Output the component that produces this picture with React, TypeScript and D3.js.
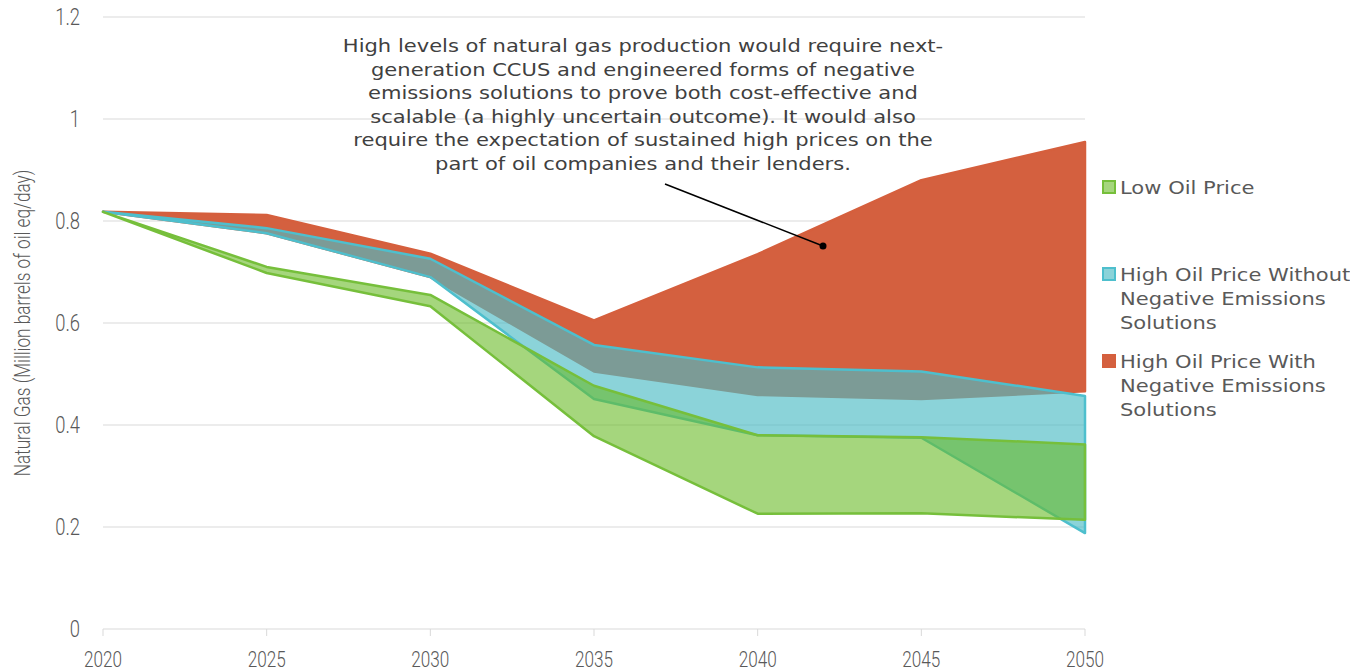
import React from 'react';
import { scaleLinear, scalePoint, area } from 'd3';

// years on the x axis
const years = [2020, 2025, 2030, 2035, 2040, 2045, 2050];
const yTicks = [0, 0.2, 0.4, 0.6, 0.8, 1, 1.2];

// each scenario is a range band (low / high edge)
const lowPriceLow = [0.818, 0.698, 0.633, 0.378, 0.226, 0.227, 0.214];
const lowPriceHigh = [0.818, 0.71, 0.655, 0.477, 0.38, 0.376, 0.362];
const noNegLow = [0.818, 0.776, 0.69, 0.451, 0.38, 0.375, 0.188];
const noNegHigh = [0.818, 0.786, 0.726, 0.557, 0.513, 0.505, 0.457];
const withNegLow = [0.818, 0.776, 0.69, 0.505, 0.459, 0.451, 0.466];
const withNegHigh = [0.818, 0.812, 0.736, 0.605, 0.735, 0.88, 0.955];

const legendLabels = [
  ['Low Oil Price'],
  ['High Oil Price Without', 'Negative Emissions', 'Solutions'],
  ['High Oil Price With', 'Negative Emissions', 'Solutions'],
];

const noteLines = [
  'High levels of natural gas production would require next-',
  'generation CCUS and engineered forms of negative',
  'emissions solutions to prove both cost-effective and',
  'scalable (a highly uncertain outcome). It would also',
  'require the expectation of sustained high prices on the',
  'part of oil companies and their lenders.',
];

const W = 1368;
const H = 672;
const margin = { top: 17, right: 283, bottom: 43, left: 103 };

const condensed = { fontFamily: 'Roboto', fontWeight: 300 } as const;
const wide = { fontFamily: '"DejaVu Sans"' } as const;

const App = () => {
  const x = scalePoint<number>().domain(years).range([margin.left, W - margin.right]);
  const y = scaleLinear().domain([0, 1.2]).range([H - margin.bottom, margin.top]);

  const band = (lo: number[], hi: number[]) =>
    area<number>()
      .x((d) => x(d) as number)
      .y0((_, i) => y(lo[i]))
      .y1((_, i) => y(hi[i]))(years) + 'Z';

  const series = [
    { lo: withNegLow, hi: withNegHigh, fill: '#d4603f', op: 1, stroke: '#d55f3d' },
    { lo: noNegLow, hi: noNegHigh, fill: '#4dbcc5', op: 0.65, stroke: '#4ebfcd' },
    { lo: lowPriceLow, hi: lowPriceHigh, fill: '#69bb26', op: 0.6, stroke: '#76bf3b' },
  ];

  const legendColors = [series[2], series[1], series[0]];
  const legendY = [187, 274, 361];

  const x0 = x(2020) as number;
  const x1 = x(2050) as number;

  return (
    <svg width={W} height={H} style={{ position: 'absolute', left: 0, top: 0 }}>
      <defs>
        <clipPath id="clipRight">
          <rect x={0} y={0} width={1350} height={H} />
        </clipPath>
      </defs>
      <rect width={W} height={H} fill="#fff" />

      {/* grid */}
      {yTicks.map((t) => (
        <line key={t} x1={x0} x2={x1} y1={y(t)} y2={y(t)} stroke="#d9d9d9" strokeWidth={1} />
      ))}
      {years.map((yr) => (
        <line key={yr} x1={x(yr)} x2={x(yr)} y1={y(0)} y2={y(0) + 7} stroke="#d9d9d9" />
      ))}

      {/* bands */}
      {series.map((s, i) => (
        <path
          key={i}
          d={band(s.lo, s.hi)}
          fill={s.fill}
          fillOpacity={s.op}
          stroke={s.stroke}
          strokeWidth={2.5}
          strokeLinejoin="round"
        />
      ))}

      {/* y tick labels */}
      {yTicks.map((t) => (
        <text
          key={t}
          transform={`translate(80,${y(t) + 8}) scale(0.8,1)`}
          textAnchor="end"
          fontSize={23}
          fill="#595959"
          style={condensed}
        >
          {t}
        </text>
      ))}
      {/* x tick labels */}
      {years.map((yr) => (
        <text
          key={yr}
          transform={`translate(${x(yr)},${H - 5}) scale(0.78,1)`}
          textAnchor="middle"
          fontSize={22}
          fill="#595959"
          style={condensed}
        >
          {yr}
        </text>
      ))}
      {/* y axis title */}
      <text
        transform={`translate(30,${(y(0) + y(1.2)) / 2}) rotate(-90) scale(0.8,1)`}
        textAnchor="middle"
        fontSize={21.5}
        fill="#595959"
        style={condensed}
      >
        Natural Gas (Million barrels of oil eq/day)
      </text>

      {/* annotation */}
      {noteLines.map((l, i) => (
        <text
          key={i}
          transform={`translate(643,${52 + i * 23.6}) scale(1.17,1)`}
          textAnchor="middle"
          fontSize={18}
          fill="#404040"
          style={wide}
        >
          {l}
        </text>
      ))}
      <line x1={665} y1={184} x2={823} y2={246} stroke="#000" strokeWidth={1.5} />
      <circle cx={823} cy={246} r={3.5} fill="#000" />

      {/* legend */}
      <g clipPath="url(#clipRight)">
        {legendLabels.map((lines, i) => (
          <g key={i}>
            <rect
              x={1103}
              y={legendY[i] - 6}
              width={12}
              height={12}
              fill={legendColors[i].fill}
              fillOpacity={legendColors[i].op}
              stroke={legendColors[i].stroke}
              strokeWidth={2}
            />
            {lines.map((l, j) => (
              <text
                key={j}
                transform={`translate(1120,${legendY[i] + 7 + j * 24}) scale(1.17,1)`}
                fontSize={18}
                fill="#595959"
                style={wide}
              >
                {l}
              </text>
            ))}
          </g>
        ))}
      </g>
    </svg>
  );
};

export default App;
